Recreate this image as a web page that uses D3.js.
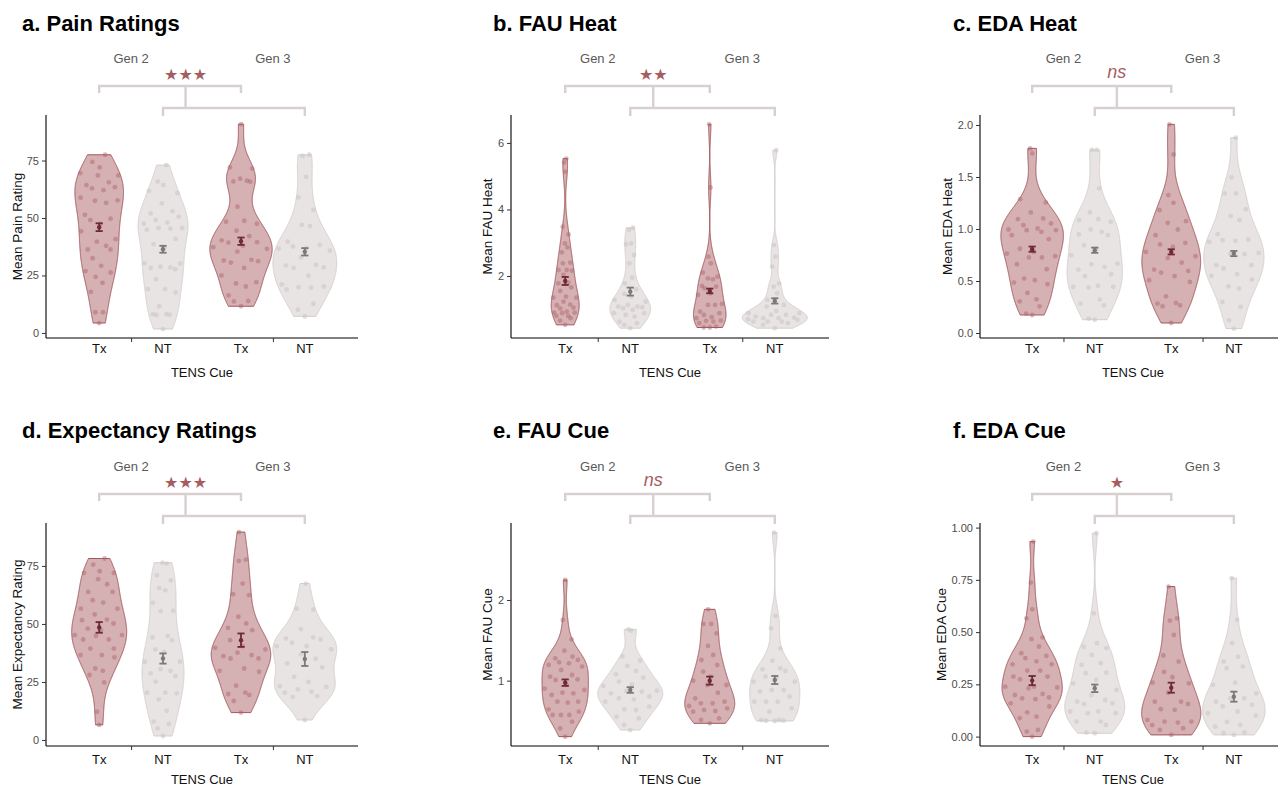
<!DOCTYPE html>
<html><head><meta charset="utf-8">
<script src="https://cdn.jsdelivr.net/npm/d3@7/dist/d3.min.js"></script>
<style>
html,body{margin:0;padding:0;background:#fff;}
svg{display:block;font-family:"Liberation Sans",Arial,sans-serif;}
</style></head>
<body>
<svg id="chart" width="1278" height="786"></svg>
<script>
// ---------------- DATA ----------------
const generations = ["Gen 2", "Gen 3"];
const cues = ["Tx", "NT"];
const panelTitles = ["a. Pain Ratings", "b. FAU Heat", "c. EDA Heat", "d. Expectancy Ratings", "e. FAU Cue", "f. EDA Cue"];
const yTitles = ["Mean Pain Rating", "Mean FAU Heat", "Mean EDA Heat", "Mean Expectancy Rating", "Mean FAU Cue", "Mean EDA Cue"];
const sigLabels = ["★★★", "★★", "ns", "★★★", "ns", "★"];
const xTitle = "TENS Cue";

const yTicksA = [0, 25, 50, 75];
const yTicksB = [2, 4, 6];
const yTicksC = [0.0, 0.5, 1.0, 1.5, 2.0];
const yTicksD = [0, 25, 50, 75];
const yTicksE = [1, 2];
const yTicksF = [0.00, 0.25, 0.50, 0.75, 1.00];
const yTickDecimals = [0, 0, 1, 0, 0, 2];
const yLimits = [[-2.2, 94.8], [0.135, 6.84], [-0.048, 2.096], [-2.6, 93.5], [0.19, 2.954], [-0.045, 1.022]];

// a. Pain ratings (Gen2 Tx, Gen2 NT, Gen3 Tx, Gen3 NT)
const painTx2 = [77.5,74.4,68.5,68.5,72,69.5,65.5,63.4,62.1,64.3,62.9,57.7,56.6,58.8,57.5,51.4,49.7,47.4,49.1,44.2,39.7,37.9,36.3,40.8,36.3,32.5,29.2,26.9,26.3,24.4,21.8,17.9,9.0,9.0,4.3];
const painNt2 = [73.0,64.3,65.9,60.8,61.8,56.4,50.6,52.9,52.0,48.0,47.5,49.1,45.7,45.4,44.9,45.7,40.9,37.3,38.6,30.2,28.3,28.8,28.5,27.7,30.3,23.4,19.1,19.1,17.6,11.6,8.1,7.8,8.2,7.9,1.7];
const painTx3 = [90.8,72.0,71.5,65.9,66.2,65.8,67.1,54.9,48.8,48.4,42.1,39.3,39.5,36.6,40.3,38.0,35.4,31.8,31.2,28.3,30.6,31.5,21.5,20.2,22.1,16.3,13.7,13.9,11.6,44.5,47.5,25.0,37.3];
const painNt3 = [77.5,77.0,67.9,59.0,53.5,47.0,46.5,39.7,37.6,36.7,38.3,37.0,35.8,32.9,29.3,28.5,29.6,28.3,24.9,21.1,18.9,19.9,19.7,20.2,12.7,10.1,7.2];
const painMean = [46.0, 36.4, 39.9, 35.3];
const painSE = [1.7, 1.5, 1.6, 1.6];

// b. FAU heat
const fauHeatTx2 = [5.53,5.41,5.13,3.48,3.25,2.98,2.86,2.71,2.38,2.40,2.18,2.16,2.18,2.03,1.80,1.78,1.55,1.66,1.35,1.35,1.38,1.23,0.93,0.90,1.02,1.12,1.14,0.90,0.73,0.80,0.88,0.80,0.66,0.53,1.05];
const fauHeatNt2 = [3.45,3.38,2.98,2.95,2.63,2.38,1.78,1.38,1.28,1.46,1.08,1.06,1.08,1.13,1.23,0.88,0.78,0.88,0.83,0.63,0.53,0.58,0.43,0.98,1.03,1.95,1.60];
const fauHeatTx3 = [6.56,4.66,2.58,2.38,1.93,1.98,1.90,1.70,1.68,1.63,1.48,1.43,1.16,1.13,1.13,0.88,0.93,0.73,0.83,0.76,0.66,0.63,0.65,0.45,0.45,0.48,0.58,2.10];
const fauHeatNt3 = [5.78,2.93,2.58,2.28,1.78,0.73,0.83,0.68,0.78,0.88,0.83,0.73,0.63,0.53,0.58,0.63,0.63,0.43,0.88,1.08,1.13,1.28,1.48,1.68,0.75,0.70,0.95];
const fauHeatMean = [1.85, 1.53, 1.55, 1.25];
const fauHeatSE = [0.12, 0.12, 0.07, 0.08];

// c. EDA heat
const edaHeatTx2 = [1.775,1.727,1.287,1.255,1.159,1.095,1.037,0.995,0.989,1.053,0.989,1.101,1.005,0.973,0.941,0.902,0.81,0.764,0.726,0.738,0.78,0.726,0.661,0.613,0.523,0.507,0.485,0.469,0.385,0.324,0.305,0.257,0.186,0.173];
const edaHeatNt2 = [1.76,1.76,1.39,1.159,1.095,1.085,1.069,0.973,0.995,0.941,0.947,0.844,0.636,0.668,0.565,0.546,0.61,0.453,0.443,0.437,0.443,0.283,0.321,0.266,0.138,0.128,0.748,0.81,0.66];
const edaHeatTx3 = [2.006,1.717,1.326,1.252,1.181,1.075,0.995,1.059,0.941,0.828,0.851,0.867,0.738,0.677,0.597,0.546,0.61,0.581,0.507,0.491,0.353,0.283,0.257,0.289,0.266,0.096,0.78,0.72];
const edaHeatNt3 = [1.878,1.496,1.342,1.342,1.191,1.124,1.085,0.886,0.876,0.899,0.892,0.770,0.758,0.652,0.652,0.62,0.565,0.549,0.514,0.427,0.449,0.25,0.299,0.122,0.042,0.76,0.95];
const edaHeatMean = [0.806, 0.796, 0.780, 0.764];
const edaHeatSE = [0.025, 0.025, 0.025, 0.025];

// d. Expectancy ratings
const expTx2 = [78.2,72.0,72.7,72.0,75.6,69.3,67.1,63.8,63.8,59.2,60.2,56.6,56.6,54.1,51.9,51.6,45.2,43.3,45.2,50.2,48.0,47.3,44.9,43.3,39.4,39.4,36.6,35.6,36.6,30.8,29.8,28.0,24.8,12.2,6.5];
const expNt2 = [76.4,76.0,71.0,68.8,64.5,65.5,59.1,55.6,55.5,44.2,44.9,39.0,33.7,33.7,29.8,30.5,28.7,27.5,25.1,20.4,20.4,20.1,17.5,12.6,7.9,6.9,5.0,1.7,43.0,38.0];
const expTx3 = [89.6,77.7,77.2,67.4,62.8,62.4,53.1,50.2,48.3,47.3,40.4,39.7,37.6,36.6,35.1,39.0,36.1,35.1,29.8,30.8,29.4,23.4,19.4,19.8,20.4,16.8,11.8,43.0];
const expNt3 = [67.4,56.6,56.2,47.8,41.9,43.7,43.3,44.2,39.0,40.4,40.4,36.9,31.3,27.2,23.2,22.9,21.8,18.9,20.4,20.8,18.6,8.6,35.0,33.0,25.0];
const expMean = [48.5, 35.1, 43.0, 34.9];
const expSE = [2.3, 2.2, 2.9, 3.0];

// e. FAU cue
const fauCueTx2 = [2.248,1.752,1.512,1.298,1.277,1.215,1.372,1.227,1.256,1.174,1.132,1.194,1.05,1.008,1.07,1.017,0.851,0.843,0.884,0.822,0.74,0.727,0.74,0.645,0.574,0.616,0.574,0.574,0.492,0.409,0.306,0.95,0.90];
const fauCueNt2 = [1.636,1.62,1.182,1.12,1.037,1.079,0.988,0.955,0.934,0.872,0.864,0.876,0.843,0.802,0.781,0.74,0.769,0.678,0.645,0.636,0.554,0.533,0.45,0.388,1.30,1.25];
const fauCueTx3 = [1.884,1.702,1.702,1.587,1.43,1.318,1.256,1.194,1.112,0.946,0.946,0.781,0.719,0.74,0.719,0.686,0.624,0.616,0.657,0.636,0.512,0.533,0.471,1.0,1.05,0.85];
const fauCueNt3 = [2.835,1.802,1.649,1.248,1.153,1.14,1.12,0.988,1.029,1.05,0.988,0.864,0.884,0.884,0.802,0.74,0.74,0.74,0.657,0.616,0.512,0.504,0.504,0.512,0.50,1.40];
const fauCueMean = [0.975, 0.884, 1.000, 1.008];
const fauCueSE = [0.04, 0.035, 0.05, 0.05];

// f. EDA cue
const edaCueTx2 = [0.933,0.737,0.609,0.566,0.475,0.466,0.431,0.399,0.386,0.36,0.375,0.346,0.346,0.316,0.316,0.287,0.287,0.274,0.239,0.231,0.239,0.235,0.204,0.199,0.179,0.187,0.183,0.116,0.159,0.144,0.088,0.096,0.032,0.0,0.024];
const edaCueNt2 = [0.973,0.59,0.447,0.423,0.343,0.391,0.351,0.306,0.303,0.271,0.255,0.223,0.199,0.175,0.159,0.167,0.155,0.12,0.112,0.12,0.112,0.072,0.056,0.072,0.019,0.016,0.43];
const edaCueTx3 = [0.718,0.566,0.555,0.486,0.388,0.359,0.284,0.258,0.255,0.167,0.156,0.167,0.072,0.08,0.072,0.067,0.032,0.008,0.04,0.055,0.128,0.131,0.31,0.21];
const edaCueNt3 = [0.758,0.558,0.447,0.383,0.359,0.335,0.327,0.258,0.247,0.183,0.183,0.207,0.167,0.152,0.144,0.112,0.12,0.056,0.048,0.07,0.016,0.008,0.02,0.10];
const edaCueMean = [0.268, 0.231, 0.234, 0.191];
const edaCueSE = [0.022, 0.018, 0.024, 0.024];

// ---------------- ASSEMBLY ----------------
const panelData = [
  {groups: [painTx2, painNt2, painTx3, painNt3], mean: painMean, se: painSE, ticks: yTicksA},
  {groups: [fauHeatTx2, fauHeatNt2, fauHeatTx3, fauHeatNt3], mean: fauHeatMean, se: fauHeatSE, ticks: yTicksB},
  {groups: [edaHeatTx2, edaHeatNt2, edaHeatTx3, edaHeatNt3], mean: edaHeatMean, se: edaHeatSE, ticks: yTicksC},
  {groups: [expTx2, expNt2, expTx3, expNt3], mean: expMean, se: expSE, ticks: yTicksD},
  {groups: [fauCueTx2, fauCueNt2, fauCueTx3, fauCueNt3], mean: fauCueMean, se: fauCueSE, ticks: yTicksE},
  {groups: [edaCueTx2, edaCueNt2, edaCueTx3, edaCueNt3], mean: edaCueMean, se: edaCueSE, ticks: yTicksF}
];

// layout (pixels)
const colX = [46, 511, 980], colW = [312, 318, 306];
const rowY = [115, 523], rowH = 223;
const yTitleOffset = [29, 24, 33, 29, 24, 39];
const titleX = [22, 493, 953];
const titleBase = [31, 438];
const xLabelBase = [353, 764];
const xTitleBase = [377, 784];

const style = {
  txFill: "rgba(160,78,84,0.44)", txStroke: "#9a4a4f",
  ntFill: "#e8e4e4", ntStroke: "#d2c9c9",
  txPoint: "rgba(170,95,102,0.45)", ntPoint: "rgba(205,198,198,0.6)",
  txBar: "#6e2b33", ntBar: "#7d7878",
  bracket: "#d8cfcf", sig: "#a65d5f"
};

const dodge = 0.225;
const svg = d3.select("#chart");
svg.append("rect").attr("width", 1278).attr("height", 786).attr("fill", "#fff");

function nrd0(v) {
  const s = v.slice().sort(d3.ascending);
  const sd = d3.deviation(s);
  const iqr = d3.quantile(s, 0.75) - d3.quantile(s, 0.25);
  let lo = Math.min(sd, iqr / 1.34);
  if (!(lo > 0)) lo = sd || 1;
  return 0.9 * lo * Math.pow(s.length, -0.2);
}
function kde(v, bw, at) {
  const n = v.length, c = 1 / (n * bw * Math.sqrt(2 * Math.PI));
  return c * d3.sum(v, x => Math.exp(-0.5 * ((at - x) / bw) ** 2));
}
function vdc(n) { // van der Corput base 2
  let q = 0, b = 0.5;
  while (n > 0) { if (n & 1) q += b; n >>= 1; b /= 2; }
  return q;
}

panelData.forEach((P, pi) => {
  const col = pi % 3, row = Math.floor(pi / 3);
  const x0 = colX[col], w = colW[col], y0 = rowY[row], y1 = y0 + rowH;
  const g = svg.append("g");
  const x = d3.scaleLinear().domain([0.4, 2.6]).range([x0, x0 + w]);
  const y = d3.scaleLinear().domain(yLimits[pi]).range([y1, y0]);
  const unitPx = x(2) - x(1);

  const dens = P.groups.map(v => {
    const bw = nrd0(v);
    const [mn, mx] = d3.extent(v);
    const pts = d3.range(512).map(i => {
      const t = mn + (mx - mn) * i / 511;
      return {v: t, d: kde(v, bw, t)};
    });
    return {bw, pts};
  });
  const maxD = d3.max(dens, D => d3.max(D.pts, p => p.d));

  const plot = g.append("g");
  P.groups.forEach((v, gi) => {
    const gen = gi < 2 ? 1 : 2;
    const isTx = gi % 2 === 0;
    const cx = x(gen + (isTx ? -dodge : dodge));
    const hw = d => d / maxD * dodge * unitPx;
    const area = d3.area()
      .y(p => y(p.v))
      .x0(p => cx - hw(p.d))
      .x1(p => cx + hw(p.d));
    plot.append("path").datum(dens[gi].pts)
      .attr("d", area)
      .attr("fill", isTx ? style.txFill : style.ntFill)
      .attr("stroke", isTx ? style.txStroke : style.ntStroke)
      .attr("stroke-width", 0.9);

    const order = v.map((val, i) => ({val, i})).sort((a, b) => a.val - b.val || a.i - b.i);
    order.forEach((o, r) => {
      const off = (vdc(r + 1) - 0.5) * 2 * hw(kde(v, dens[gi].bw, o.val)) * 0.95;
      plot.append("circle")
        .attr("cx", cx + off).attr("cy", y(o.val)).attr("r", 2.4)
        .attr("fill", isTx ? style.txPoint : style.ntPoint);
    });

    const m = P.mean[gi], s = P.se[gi];
    const col2 = isTx ? style.txBar : style.ntBar;
    const eb = plot.append("g").attr("stroke", col2).attr("stroke-width", 1.8).attr("fill", "none");
    eb.append("line").attr("x1", cx).attr("x2", cx).attr("y1", y(m - s)).attr("y2", y(m + s));
    eb.append("line").attr("x1", cx - 3.6).attr("x2", cx + 3.6).attr("y1", y(m - s)).attr("y2", y(m - s));
    eb.append("line").attr("x1", cx - 3.6).attr("x2", cx + 3.6).attr("y1", y(m + s)).attr("y2", y(m + s));
    plot.append("circle").attr("cx", cx).attr("cy", y(m)).attr("r", 2.2).attr("fill", col2);
  });

  const dec = yTickDecimals[pi];
  const yAxis = d3.axisLeft(y).tickValues(P.ticks).tickFormat(d => d.toFixed(dec)).tickSize(4).tickSizeOuter(0).tickPadding(3);
  const ya = g.append("g").attr("transform", `translate(${x0},0)`).call(yAxis);
  ya.select(".domain").attr("d", `M0,${y0}V${y1}`).attr("stroke", "#000").attr("stroke-width", 1.1);
  ya.selectAll(".tick line").attr("stroke", "#333");
  ya.selectAll(".tick text").attr("fill", "#4d4d4d").attr("font-size", 11).attr("font-family", "Liberation Sans, Arial, sans-serif");

  const xAxis = d3.axisBottom(x).tickValues([1, 2]).tickFormat("").tickSize(4).tickSizeOuter(0);
  const xa = g.append("g").attr("transform", `translate(0,${y1})`).call(xAxis);
  xa.select(".domain").attr("d", `M${x0},0H${x0 + w}`).attr("stroke", "#000").attr("stroke-width", 1.1);
  xa.selectAll(".tick line").attr("stroke", "#333");

  [1, 2].forEach(gen => {
    cues.forEach((c, ci) => {
      g.append("text").attr("x", x(gen + (ci === 0 ? -dodge : dodge))).attr("y", xLabelBase[row])
        .attr("text-anchor", "middle").attr("font-size", 13).attr("fill", "#111").text(c);
    });
    g.append("text").attr("x", x(gen)).attr("y", y0 - 52)
      .attr("text-anchor", "middle").attr("font-size", 13).attr("fill", "#595959").text(generations[gen - 1]);
  });
  g.append("text").attr("x", x(1.5)).attr("y", xTitleBase[row])
    .attr("text-anchor", "middle").attr("font-size", 13).attr("fill", "#111").text(xTitle);

  const yt = x0 - yTitleOffset[pi], ym = (y0 + y1) / 2;
  g.append("text").attr("transform", `translate(${yt},${ym}) rotate(-90)`)
    .attr("text-anchor", "middle").attr("dominant-baseline", "central")
    .attr("font-size", 13.5).attr("fill", "#111").text(yTitles[pi]);

  g.append("text").attr("x", titleX[col]).attr("y", titleBase[row])
    .attr("font-size", 22).attr("font-weight", "bold").attr("fill", "#000").text(panelTitles[pi]);

  const bTop = y0 - 29, bTopLeg = y0 - 22, bLow = y0 - 7, bLowLeg = y0 + 1;
  const stemX = x(1.384);
  const br = g.append("g").attr("stroke", style.bracket).attr("stroke-width", 2.4).attr("fill", "none");
  br.append("path").attr("d", `M${x(1 - dodge)},${bTopLeg}V${bTop}H${x(2 - dodge)}V${bTopLeg}`);
  br.append("path").attr("d", `M${x(1 + dodge)},${bLowLeg}V${bLow}H${x(2 + dodge)}V${bLowLeg}`);
  br.append("path").attr("d", `M${stemX},${bTop}V${bLow}`);

  const lab = sigLabels[pi];
  if (lab === "ns") {
    g.append("text").attr("x", stemX).attr("y", y0 - 37).attr("text-anchor", "middle")
      .attr("font-size", 18).attr("font-style", "italic").attr("fill", style.sig).text(lab);
  } else {
    g.append("text").attr("x", stemX).attr("y", y0 - 41).attr("text-anchor", "middle")
      .attr("dominant-baseline", "central")
      .attr("font-family", "DejaVu Sans, sans-serif")
      .attr("font-size", 16).attr("fill", style.sig).text(lab);
  }
});
</script>
</body></html>
